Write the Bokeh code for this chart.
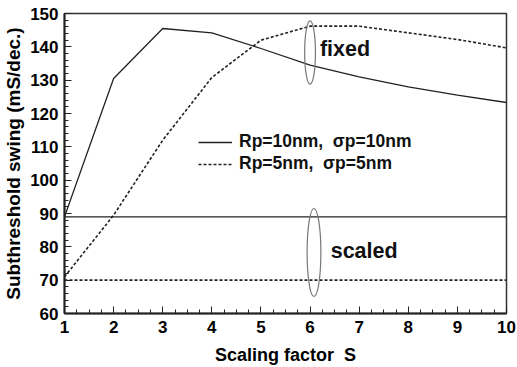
from bokeh.plotting import figure
from bokeh.models import Range1d, Label, Legend, LegendItem, FixedTicker
from bokeh.embed import file_html
from bokeh.resources import INLINE

# ---- data ----
scaling_factor = [1, 2, 3, 4, 5, 6, 7, 8, 9, 10]
swing_rp10 = [89.0, 130.5, 145.5, 144.2, 139.5, 134.5, 131.0, 128.0, 125.5, 123.3]
swing_rp5 = [71.0, 89.5, 112.0, 130.8, 142.0, 146.2, 146.2, 144.2, 142.2, 139.7]
scaled_rp10 = [89.0, 89.0]
scaled_rp5 = [70.0, 70.0]
scaled_x = [1, 10]
x_ticks = [1, 2, 3, 4, 5, 6, 7, 8, 9, 10]
y_ticks = [60, 70, 80, 90, 100, 110, 120, 130, 140, 150]

FONT = "Liberation Sans"

p = figure(width=517, height=367, output_backend="svg", toolbar_location=None,
           x_range=Range1d(1, 10), y_range=Range1d(60, 150),
           min_border_left=64, min_border_right=11, min_border_top=13, min_border_bottom=53)
p.grid.visible = False
p.background_fill_color = "white"
p.border_fill_color = "white"
p.outline_line_color = "#333333"
p.outline_line_width = 1.5

for ax in (p.xaxis[0], p.yaxis[0]):
    ax.major_label_text_font = FONT
    ax.major_label_text_font_style = "bold"
    ax.major_label_text_font_size = "17px"
    ax.major_label_text_color = "black"
    ax.axis_label_text_font = FONT
    ax.axis_label_text_font_style = "bold"
    ax.axis_label_text_font_size = "18px"
    ax.axis_label_text_color = "black"
    ax.axis_line_width = 2
    ax.axis_line_color = "#222222"
    ax.major_tick_in = 7
    ax.major_tick_out = 0
    ax.minor_tick_in = 4
    ax.minor_tick_out = 0
    ax.major_tick_line_color = "#222222"
    ax.minor_tick_line_color = "#222222"

p.yaxis.axis_label_text_font_size = "19px"
p.xaxis.ticker = FixedTicker(ticks=x_ticks, minor_ticks=[1 + i * 0.25 for i in range(37)])
p.yaxis.ticker = FixedTicker(ticks=y_ticks, minor_ticks=list(range(60, 151, 2)))
p.xaxis.axis_label = "Scaling factor\u00a0\u00a0S"
p.yaxis.axis_label = "Subthreshold swing (mS/dec.)"
p.xaxis.major_label_standoff = 7
p.yaxis.major_label_standoff = 6
p.xaxis.axis_label_standoff = 9
p.yaxis.axis_label_standoff = 3

r1 = p.line(scaling_factor, swing_rp10, line_color="#222222", line_width=1.3)
r2 = p.line(scaling_factor, swing_rp5, line_color="#222222", line_width=1.6, line_dash="3 2")
p.line(scaled_x, scaled_rp10, line_color="#222222", line_width=1.3)
p.line(scaled_x, scaled_rp5, line_color="#222222", line_width=1.6, line_dash="3 2")

p.ellipse(x=[6.0], y=[138.3], width=0.22, height=19, fill_color=None,
          line_color="#777777", line_width=1.2)
p.ellipse(x=[6.08], y=[78.3], width=0.28, height=26.4, fill_color=None,
          line_color="#777777", line_width=1.2)

p.add_layout(Label(x=6.2, y=139.3, text="fixed", text_font=FONT, text_font_style="bold",
                   text_font_size="21.5px", text_baseline="middle", text_color="#111111"))
p.add_layout(Label(x=6.42, y=78.8, text="scaled", text_font=FONT, text_font_style="bold",
                   text_font_size="21.5px", text_baseline="middle", text_color="#111111"))

legend = Legend(items=[LegendItem(label="Rp=10nm,\u00a0\u00a0σp=10nm", renderers=[r1]),
                       LegendItem(label="Rp=5nm,\u00a0\u00a0σp=5nm", renderers=[r2])],
                location=(134, 139), padding=0, margin=0, spacing=1,
                glyph_width=34, glyph_height=20, label_height=20, label_standoff=7,
                border_line_color=None, background_fill_alpha=0,
                label_text_font=FONT, label_text_font_style="bold",
                label_text_font_size="17.5px", label_text_color="#111111")
p.add_layout(legend)

open("out.html", "w").write(file_html(p, INLINE))
